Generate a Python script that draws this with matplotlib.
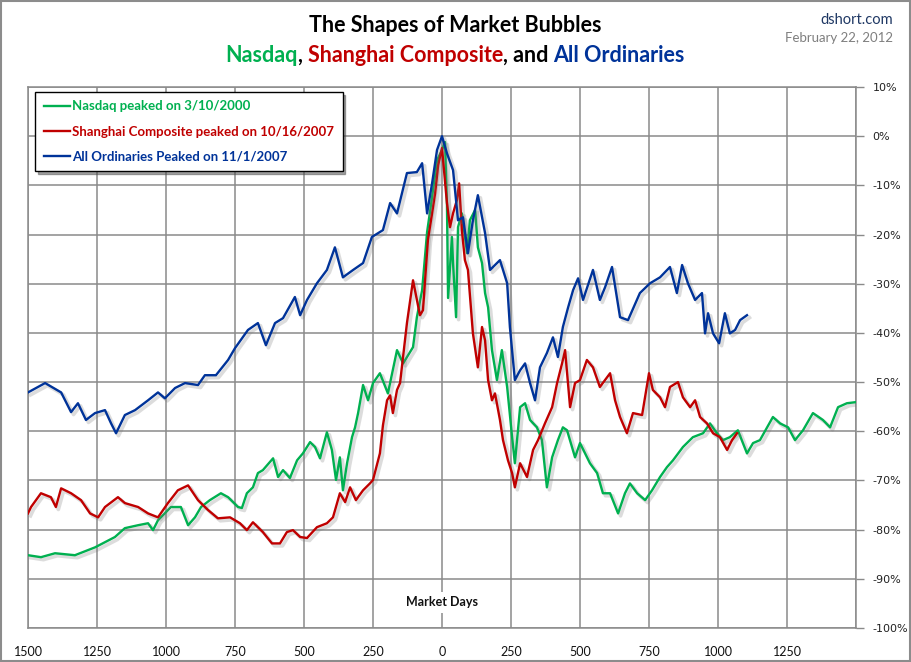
import matplotlib
matplotlib.use("Agg")
import matplotlib.pyplot as plt
import matplotlib.patheffects as pe
from matplotlib.ticker import FixedLocator, FuncFormatter
from matplotlib.patches import Rectangle

# market days relative to each index's peak, and % off the peak

aord_days = [-1500, -1438, -1380, -1344, -1319, -1290, -1257, -1221, -1199, -1181,
             -1149, -1112, -1065, -1029, -1004, -967, -931, -884, -859, -819,
             -775, -750, -703, -667, -638, -605, -576, -533, -514, -489,
             -453, -417, -388, -359, -322, -286, -254, -214, -188, -163,
             -127, -91, -72, -54, -36, -18, 0, 18, 40, 58,
             76, 94, 112, 130, 156, 174, 210, 236, 246, 264,
             283, 301, 319, 337, 355, 380, 402, 420, 438, 457,
             475, 493, 511, 547, 572, 591, 616, 645, 674, 717,
             754, 790, 826, 851, 870, 891, 917, 942, 953, 964,
             982, 1004, 1025, 1043, 1062, 1080, 1105]
aord_pct = [-52.1, -50.2, -52.1, -56.1, -54.3, -57.7, -56.3, -55.7, -58.4, -60.4,
            -56.7, -55.7, -53.7, -52.1, -53.3, -51.2, -50.2, -50.6, -48.6, -48.6,
            -45.5, -43.1, -39.4, -38.0, -42.5, -38.0, -37.0, -32.7, -36.4, -33.3,
            -29.9, -27.2, -22.6, -28.7, -27.2, -25.8, -20.5, -19.1, -13.6, -15.7,
            -7.5, -7.3, -5.5, -15.7, -9.6, -2.8, 0.0, -3.5, -6.9, -17.1,
            -16.5, -23.8, -17.1, -12.0, -19.7, -27.2, -25.2, -29.9, -38.8, -49.6,
            -47.6, -46.2, -50.2, -53.7, -47.0, -44.1, -40.9, -44.9, -38.8, -34.8,
            -31.3, -28.9, -33.3, -27.2, -33.3, -30.7, -26.6, -36.8, -37.4, -31.9,
            -29.9, -28.7, -26.6, -31.9, -26.2, -29.9, -33.3, -31.9, -40.1, -36.0,
            -40.1, -42.1, -36.0, -40.1, -39.4, -37.4, -36.4]

shanghai_days = [-1500, -1489, -1453, -1417, -1399, -1380, -1344, -1308, -1275, -1246,
                 -1221, -1174, -1149, -1101, -1065, -1029, -993, -957, -920, -884,
                 -848, -812, -768, -732, -707, -685, -649, -616, -587, -562,
                 -540, -514, -489, -453, -417, -395, -370, -351, -333, -312,
                 -286, -261, -250, -225, -214, -199, -188, -178, -163, -152,
                 -127, -105, -80, -69, -51, -36, -25, -14, 0, 18,
                 29, 40, 54, 62, 72, 83, 94, 112, 130, 145,
                 156, 167, 181, 192, 210, 221, 239, 254, 264, 283,
                 308, 330, 348, 373, 399, 417, 435, 446, 464, 482,
                 500, 525, 547, 572, 609, 627, 645, 670, 692, 725,
                 750, 764, 790, 808, 826, 855, 873, 899, 917, 935,
                 960, 982, 1007, 1033, 1051, 1069]
shanghai_pct = [-76.7, -75.4, -72.6, -73.4, -75.4, -71.6, -72.6, -74.0, -76.7, -77.5,
                -75.4, -73.4, -74.6, -75.4, -76.7, -77.5, -74.6, -72.0, -71.0, -74.0,
                -76.0, -77.7, -77.5, -78.7, -80.1, -78.5, -80.5, -82.8, -82.8, -80.5,
                -80.1, -81.5, -81.7, -79.5, -78.7, -77.5, -72.6, -74.4, -71.4, -74.0,
                -72.0, -70.6, -69.9, -64.5, -58.8, -53.7, -52.7, -56.3, -51.6, -50.2,
                -38.0, -29.3, -36.4, -35.4, -21.1, -15.7, -11.6, -5.9, -2.4, -13.6,
                -18.5, -15.7, -13.0, -9.6, -19.1, -25.2, -27.2, -40.1, -47.0, -38.8,
                -41.5, -49.6, -53.7, -52.3, -57.7, -61.8, -65.9, -68.5, -71.4, -66.5,
                -69.3, -63.8, -61.8, -58.4, -55.1, -50.2, -46.2, -43.5, -55.1, -50.2,
                -49.6, -45.5, -47.0, -51.0, -48.2, -53.7, -57.1, -60.4, -56.3, -56.7,
                -48.2, -51.6, -53.1, -55.1, -51.0, -50.0, -53.1, -55.1, -53.7, -57.1,
                -58.4, -60.4, -61.2, -63.8, -61.8, -60.4]

nasdaq_days = [-1500, -1453, -1402, -1330, -1257, -1185, -1149, -1101, -1065, -1047,
               -1029, -982, -946, -920, -895, -873, -841, -801, -775, -739,
               -725, -707, -685, -667, -649, -612, -594, -576, -551, -525,
               -504, -478, -460, -442, -417, -399, -384, -370, -359, -344,
               -326, -315, -304, -286, -268, -250, -225, -196, -163, -141,
               -105, -91, -72, -54, -36, -18, 0, 11, 18, 22,
               36, 40, 51, 58, 72, 91, 101, 120, 130, 145,
               156, 167, 181, 199, 217, 236, 254, 264, 283, 301,
               319, 344, 362, 380, 399, 420, 438, 453, 482, 500,
               536, 562, 583, 609, 638, 663, 681, 707, 736, 761,
               790, 815, 837, 873, 909, 946, 971, 996, 1018, 1043,
               1072, 1105, 1127, 1152, 1178, 1199, 1225, 1254, 1279, 1308,
               1344, 1380, 1406, 1435, 1467, 1496]
nasdaq_pct = [-85.2, -85.6, -84.8, -85.2, -83.6, -81.5, -79.7, -79.1, -78.7, -80.1,
              -78.1, -75.4, -75.4, -79.1, -77.5, -75.4, -74.0, -72.6, -73.4, -75.4,
              -75.6, -72.6, -71.4, -68.5, -67.9, -65.5, -69.3, -67.9, -69.5, -65.9,
              -64.5, -62.2, -63.2, -65.5, -60.2, -63.8, -69.9, -65.3, -72.0, -66.5,
              -61.2, -59.2, -56.3, -50.6, -53.7, -50.2, -48.2, -52.3, -43.5, -46.2,
              -42.9, -36.8, -31.3, -19.5, -12.4, -4.9, -2.8, -1.2, -14.0, -32.9,
              -20.5, -25.8, -36.8, -18.5, -15.7, -23.8, -17.1, -15.0, -22.6, -25.8,
              -31.9, -34.8, -43.5, -49.6, -43.5, -51.0, -61.2, -66.5, -55.1, -54.3,
              -57.7, -59.2, -61.8, -71.4, -65.3, -61.8, -59.2, -59.8, -65.3, -62.4,
              -66.5, -68.5, -72.6, -72.6, -76.7, -72.6, -70.6, -72.6, -74.0, -72.0,
              -69.3, -67.3, -65.9, -63.2, -61.2, -60.4, -58.4, -60.4, -61.8, -61.2,
              -59.8, -64.5, -62.4, -61.8, -59.2, -57.1, -58.4, -59.2, -61.8, -59.8,
              -56.3, -57.7, -59.2, -55.1, -54.3, -54.1]

x_ticks = [-1500, -1250, -1000, -750, -500, -250, 0, 250, 500, 750, 1000, 1250]
y_ticks = [10, 0, -10, -20, -30, -40, -50, -60, -70, -80, -90, -100]

green = "#00B050"
red = "#C00000"
blue = "#003399"
grid_c = "#8a8a8a"

W, H = 911, 662
fig = plt.figure(figsize=(W / 100, H / 100), dpi=100)
fig.patch.set_facecolor("white")
fig.patches.append(Rectangle((0.001, 0.001), 0.998, 0.997, transform=fig.transFigure,
                             fill=False, edgecolor="#8c8c8c", linewidth=1.5))

ax = fig.add_axes([28 / W, 1 - 628 / H, (856 - 28) / W, (628 - 87) / H])

shadow = [pe.SimpleLineShadow(offset=(1.8, -1.8), shadow_color="#777777", alpha=0.25,
                              linewidth=2.6),
          pe.Normal()]
ax.plot(nasdaq_days, nasdaq_pct, color=green, lw=1.7, path_effects=shadow,
        label="Nasdaq peaked on 3/10/2000", zorder=3)
ax.plot(shanghai_days, shanghai_pct, color=red, lw=1.7, path_effects=shadow,
        label="Shanghai Composite peaked on 10/16/2007", zorder=4)
ax.plot(aord_days, aord_pct, color=blue, lw=1.7, path_effects=shadow,
        label="All Ordinaries Peaked on 11/1/2007", zorder=5)

ax.set_xlim(-1500, 1500)
ax.set_ylim(-100, 10)
ax.xaxis.set_major_locator(FixedLocator(x_ticks + [1500]))
ax.xaxis.set_major_formatter(FuncFormatter(lambda v, p: "" if v >= 1500 else "%d" % abs(v)))
ax.yaxis.set_major_locator(FixedLocator(y_ticks))
ax.yaxis.set_major_formatter(FuncFormatter(lambda v, p: "%d%%" % v))
ax.yaxis.tick_right()
ax.tick_params(axis="y", direction="out", length=6, width=1, color=grid_c,
               labelsize=8, labelcolor="#222222", pad=6)
ax.tick_params(axis="x", length=0, pad=13, labelcolor="#111111")
for lab in ax.get_xticklabels():
    lab.set_fontfamily("Lato")
    lab.set_fontsize(9)
ax.grid(True, color=grid_c, lw=1.1)
ax.set_axisbelow(True)
for s in ax.spines.values():
    s.set_color(grid_c)
    s.set_linewidth(1.1)

ax.text(0, -94.8, "Market Days", ha="center", va="center", fontsize=9,
        fontweight="bold", family="Lato", color="#111111",
        bbox=dict(facecolor="white", edgecolor="none", pad=3), zorder=6)

leg = ax.legend(loc="upper left", bbox_to_anchor=(0.0085, 0.991), frameon=True,
                fancybox=False, shadow=True, handlelength=2.0, handletextpad=0.15,
                labelspacing=1.0, borderpad=0.65, borderaxespad=0,
                prop={"family": "Lato", "weight": "bold", "size": 9.5})
leg.get_frame().set_edgecolor("black")
leg.get_frame().set_linewidth(1.0)
for t, c in zip(leg.get_texts(), [green, red, blue]):
    t.set_color(c)
for h in leg.get_lines():
    h.set_path_effects([])
leg.set_zorder(10)

# titles
fig.text(455 / W, 1 - 26 / H, "The Shapes of Market Bubbles", ha="center", va="center",
         fontsize=15.5, fontweight="bold", family="Lato", color="black")

parts = [("Nasdaq", green), (", ", "black"), ("Shanghai Composite", red),
         (", and ", "black"), ("All Ordinaries", blue)]
r = fig.canvas.get_renderer()
pieces = [fig.text(0, 1 - 55 / H, s, color=c, fontsize=15.5, fontweight="bold",
                   family="Lato", va="center", ha="left") for s, c in parts]
widths = [p.get_window_extent(r).width for p in pieces]
x = 455 - sum(widths) / 2
for p, w in zip(pieces, widths):
    p.set_x(x / W)
    x += w

fig.text(893 / W, 1 - 20 / H, "dshort.com", ha="right", va="center", fontsize=10.5,
         family="Lato", color="#1F3864")
fig.text(893 / W, 1 - 38 / H, "February 22, 2012", ha="right", va="center",
         fontsize=9.5, family="Lato", color="#7f7f7f")

fig.savefig("out.png", dpi=100)
